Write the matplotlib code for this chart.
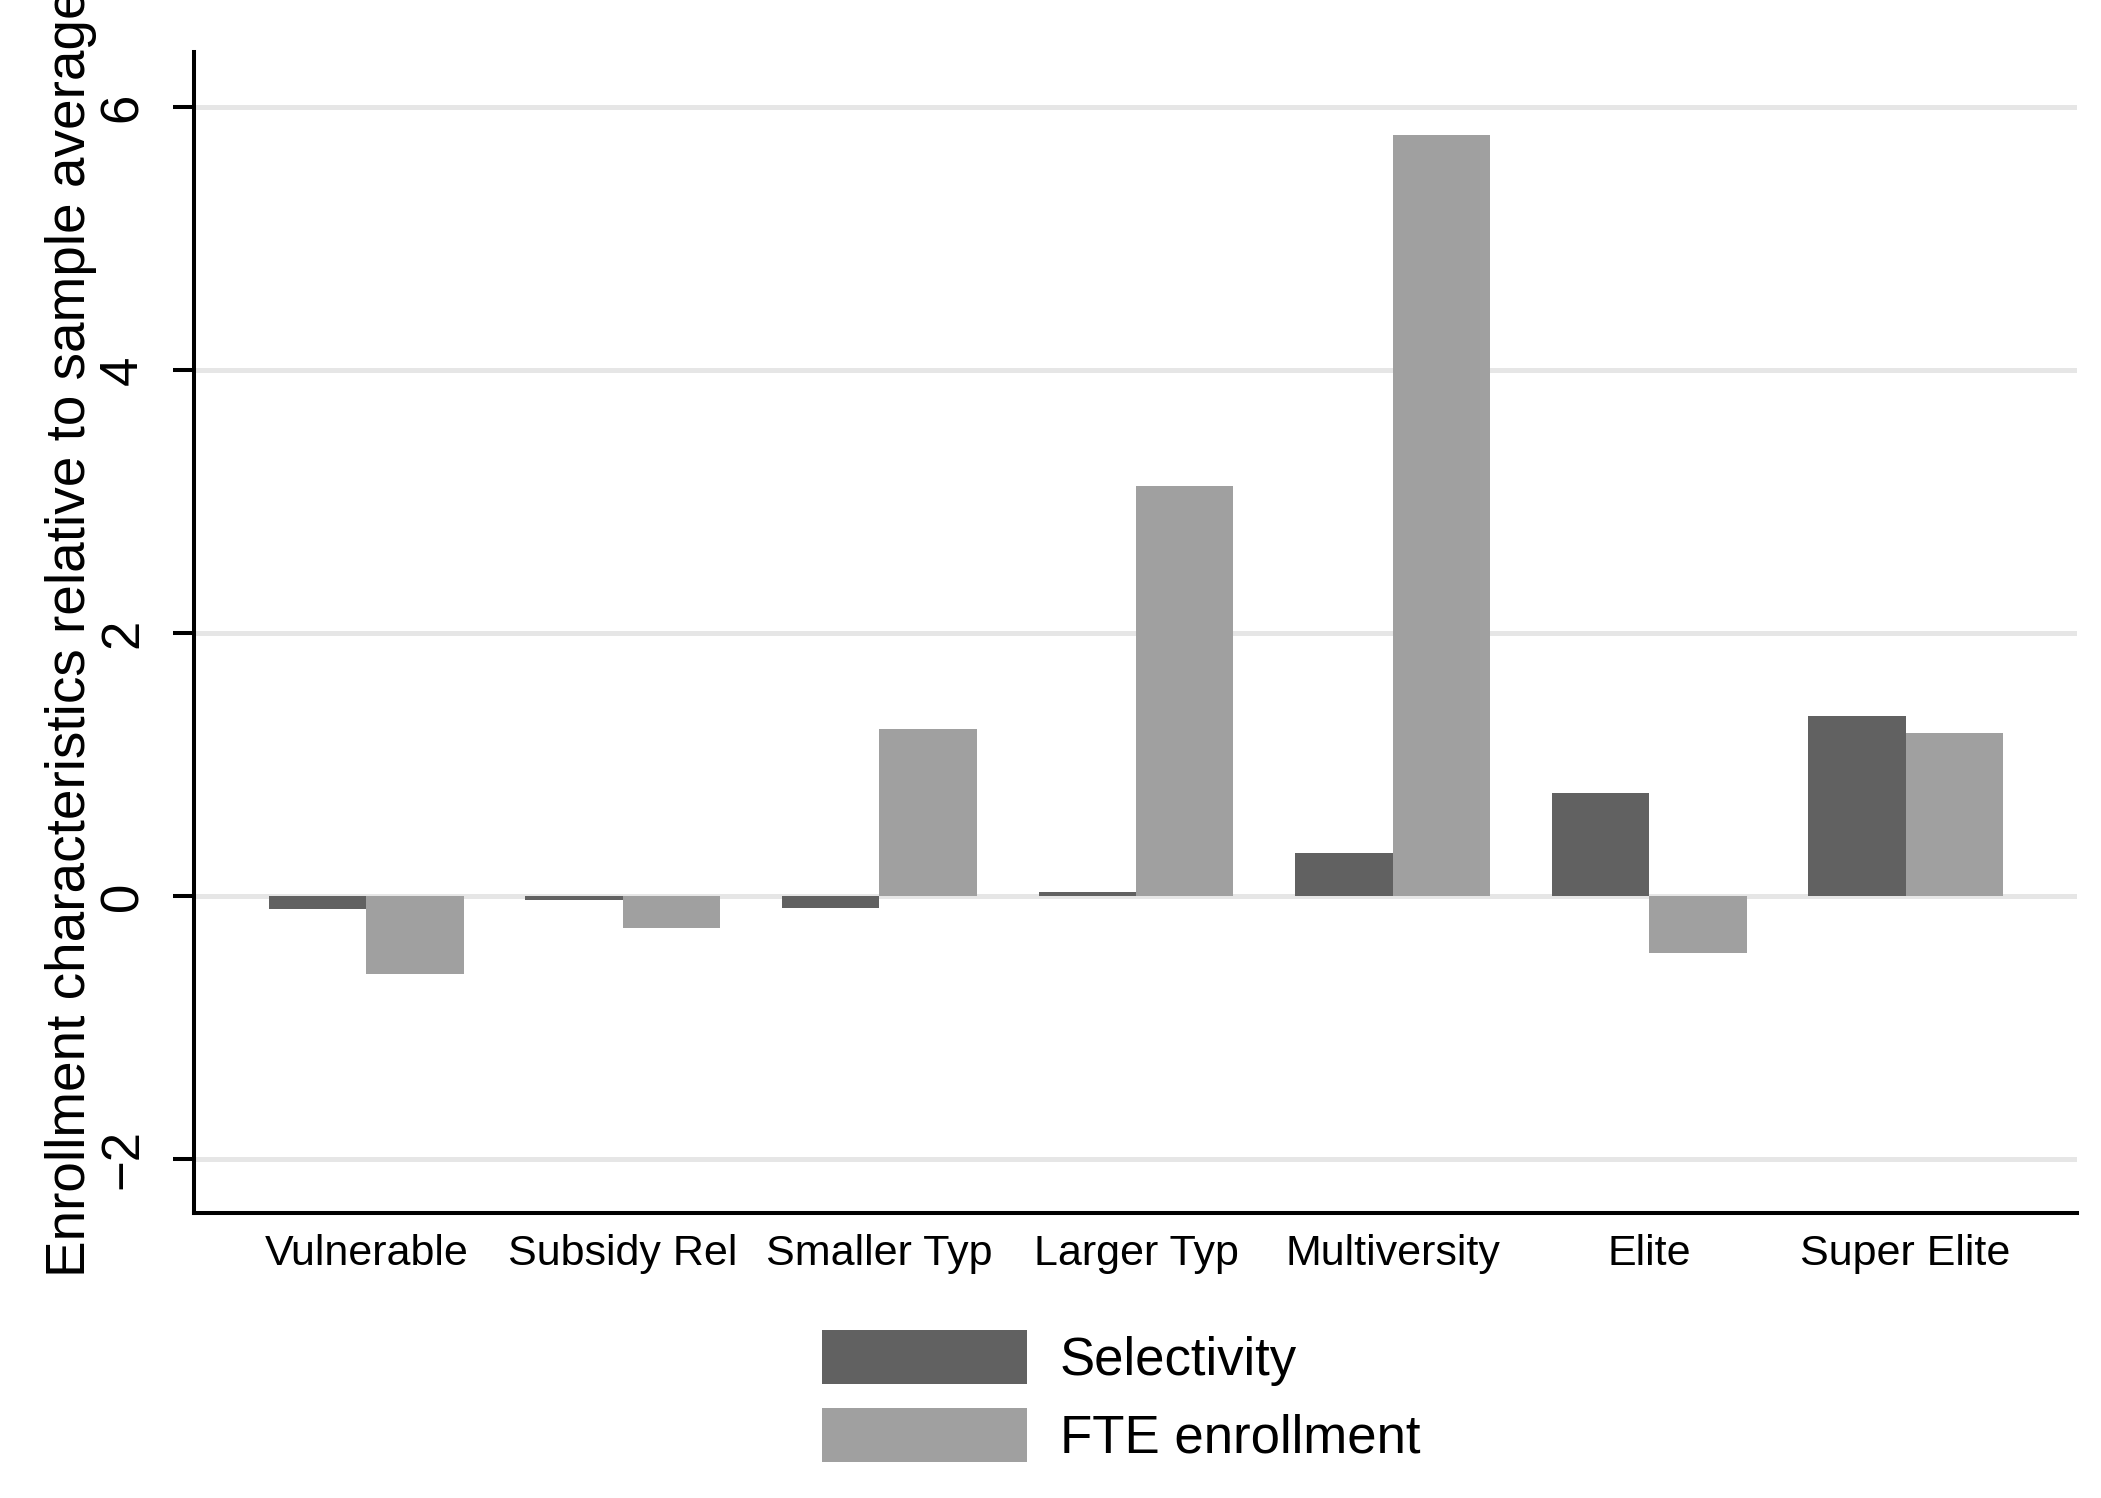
import numpy as np
import matplotlib
matplotlib.use('Agg')
from matplotlib import pyplot as plt

plt.rcParams['font.family'] = ['Liberation Sans', 'DejaVu Sans']

# data
categories = ['Vulnerable', 'Subsidy Rel', 'Smaller Typ', 'Larger Typ',
              'Multiversity', 'Elite', 'Super Elite']
selectivity = [-0.10, -0.03, -0.09, 0.03, 0.33, 0.78, 1.37]
fte_enrollment = [-0.59, -0.24, 1.27, 3.12, 5.79, -0.43, 1.24]
series_names = ['Selectivity', 'FTE enrollment']
y_ticks = [-2, 0, 2, 4, 6]

dark = '#616161'
light = '#a0a0a0'

fig = plt.figure(figsize=(21.01, 14.98), dpi=100)
ax = fig.add_axes([0.0923, 0.1903, 0.8963, 0.775])

x = np.arange(len(categories))
w = 0.38
b1 = ax.bar(x - w / 2, selectivity, width=w, color=dark, linewidth=0,
            label=series_names[0], zorder=2)
b2 = ax.bar(x + w / 2, fte_enrollment, width=w, color=light, linewidth=0,
            label=series_names[1], zorder=2)

ax.set_xlim(-0.672, 6.668)
ax.set_ylim(-2.41, 6.418)
ax.set_yticks(y_ticks)
ax.set_yticklabels([str(t).replace('-', '\u2212') for t in y_ticks],
                   rotation=90, va='center', fontsize=38)
ax.set_xticks(x)
ax.set_xticklabels(categories, fontsize=31)

ax.tick_params(axis='x', length=0, pad=15)
ax.tick_params(axis='y', length=15, width=2.9, pad=18, color='black')

ax.yaxis.grid(True, color='#e6e6e6', linewidth=3.6, zorder=0)
ax.set_axisbelow(True)

for side in ['top', 'right']:
    ax.spines[side].set_visible(False)
for side in ['left', 'bottom']:
    ax.spines[side].set_linewidth(2.9)
    ax.spines[side].set_color('black')

# the reference label runs past the top edge too
ax.set_ylabel('Enrollment characteristics relative to sample average',
              fontsize=39.5, labelpad=1)

fig.legend(handles=[b1, b2], labels=series_names,
           loc='upper left', bbox_to_anchor=(822 / 2101, 1 - 1330 / 1498),
           frameon=False, fontsize=38, borderpad=0, borderaxespad=0,
           handlelength=3.88, handleheight=1.21, handletextpad=0.62,
           labelspacing=0.41)

fig.savefig('out.png', dpi=100)
